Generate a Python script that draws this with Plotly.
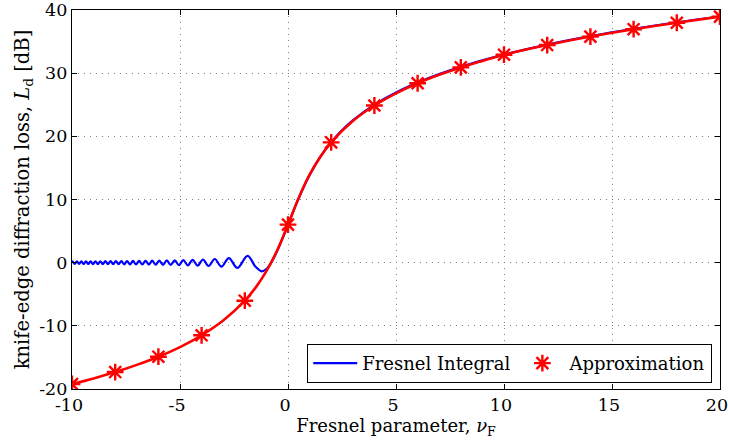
import plotly.graph_objects as go

# Fresnel-integral knife-edge loss: oscillating shadow-free region (v < -1.2)
# given by its successive extrema, followed by the rising part of the curve.
fresnel_v = [
    -10.0, -9.975, -9.874, -9.772, -9.670, -9.566, -9.460, -9.354, -9.247, -9.138,
    -9.028, -8.916, -8.803, -8.689, -8.573, -8.456, -8.337, -8.216, -8.093, -7.969,
    -7.842, -7.714, -7.583, -7.450, -7.314, -7.176, -7.036, -6.892, -6.745, -6.595,
    -6.442, -6.285, -6.124, -5.958, -5.788, -5.612, -5.431, -5.244, -5.050, -4.848,
    -4.637, -4.416, -4.183, -3.937, -3.674, -3.391, -3.082, -2.739, -2.345, -1.871,
    -1.5, -1.22, -1.0, -0.75, -0.5, -0.25, 0.0, 0.25, 0.5, 0.75, 1.0, 1.5, 2.0, 2.5,
    3.0, 4.0, 5.0, 6.0, 7.0, 8.0, 9.0, 10.0, 12.0, 14.0, 16.0, 18.0, 20.0,
]
fresnel_loss = [
    0.0, 0.20, -0.20, 0.20, -0.20, 0.20, -0.21, 0.21, -0.21, 0.21,
    -0.22, 0.22, -0.22, 0.22, -0.23, 0.23, -0.23, 0.24, -0.24, 0.25,
    -0.25, 0.25, -0.26, 0.26, -0.27, 0.27, -0.28, 0.28, -0.29, 0.30,
    -0.30, 0.31, -0.32, 0.33, -0.34, 0.35, -0.36, 0.37, -0.39, 0.40,
    -0.42, 0.44, -0.47, 0.50, -0.53, 0.58, -0.63, 0.71, -0.83, 1.07,
    -0.66, -1.37, -1.00, 0.16, 1.86, 3.87, 6.02, 8.17, 10.23, 12.14, 13.86, 16.78, 19.09, 20.96,
    22.52, 25.00, 26.94, 28.51, 29.85, 31.01, 32.03, 32.95, 34.53, 35.87, 37.03, 38.06, 38.97,
]

# Approximate loss curve
approx_v = [-10, -9, -8, -7, -6, -5, -4, -3, -2, -1.5, -1, -0.5, 0, 0.5, 1, 1.5,
            2, 3, 4, 5, 6, 7, 8, 9, 10, 12, 14, 16, 18, 20]
approx_loss = [-19.21, -18.32, -17.32, -16.18, -14.89, -13.36, -11.50, -9.17, -6.02,
               -3.95, -1.35, 1.96, 6.03, 10.29, 13.93, 16.78, 19.04, 22.42, 24.88,
               26.81, 28.40, 29.74, 30.91, 31.94, 32.92, 34.45, 35.79, 36.96, 37.98, 38.95]

# Marker positions of the approximation
marker_v = [-10, -8, -6, -4, -2, 0, 2, 4, 6, 8, 10, 12, 14, 16, 18, 20]
marker_loss = [-19.21, -17.32, -14.89, -11.50, -6.02, 6.03, 19.04, 24.88, 28.40,
               30.91, 32.92, 34.45, 35.79, 36.96, 37.98, 38.95]

x_ticks = [-10, -5, 0, 5, 10, 15, 20]
x_labels = ["-10", "-5", "0", "5", "10", "15", "20"]
y_ticks = [-20, -10, 0, 10, 20, 30, 40]
y_labels = ["-20", "-10", "0", "10", "20", "30", "40"]

FONT = "DejaVu Serif"

fig = go.Figure()
fig.add_trace(go.Scatter(
    x=fresnel_v, y=fresnel_loss, mode="lines", name="Fresnel Integral",
    line=dict(color="#0000ff", width=2.2, shape="spline", smoothing=1.0),
))
fig.add_trace(go.Scatter(
    x=approx_v, y=approx_loss, mode="lines", showlegend=False,
    line=dict(color="#ff0000", width=2.6, shape="spline", smoothing=1.0),
))
fig.add_trace(go.Scatter(
    x=marker_v, y=marker_loss, mode="markers", name="Approximation",
    marker=dict(symbol="asterisk-open", size=14, color="#ff0000",
                line=dict(color="#ff0000", width=2.4)),
))

axis_common = dict(
    showline=True, linecolor="black", linewidth=1.2, mirror="ticks",
    ticks="inside", ticklen=5, tickcolor="black", tickwidth=1,
    showgrid=True, gridcolor="#808080", griddash="1px,5px", gridwidth=1,
    zeroline=False, ticklabeloverflow="allow", automargin=False,
    tickfont=dict(family=FONT, size=17.5, color="black"),
)

fig.update_layout(
    width=729, height=446,
    margin=dict(l=72, r=9, t=10, b=57),
    paper_bgcolor="white", plot_bgcolor="white",
    font=dict(family=FONT, color="black"),
    xaxis=dict(range=[-10.0001, 20.0001], tickvals=x_ticks, ticktext=x_labels,
               ticklabelshift=-3,
               title=dict(text="Fresnel parameter, <i>ν</i><sub>F</sub>",
                          font=dict(family=FONT, size=18), standoff=0),
               **axis_common),
    yaxis=dict(range=[-20.0002, 40.0002], tickvals=y_ticks, ticktext=y_labels,
               title=dict(text="knife-edge diffraction loss, <i>L</i><sub>d</sub> [dB]",
                          font=dict(family=FONT, size=19.5), standoff=4),
               **axis_common),
    legend=dict(orientation="h", x=0.988, y=0.016, xanchor="right", yanchor="bottom",
                bgcolor="white", bordercolor="black", borderwidth=1,
                font=dict(family=FONT, size=18), itemwidth=44),
    showlegend=True,
)

fig.write_html("out.html")
